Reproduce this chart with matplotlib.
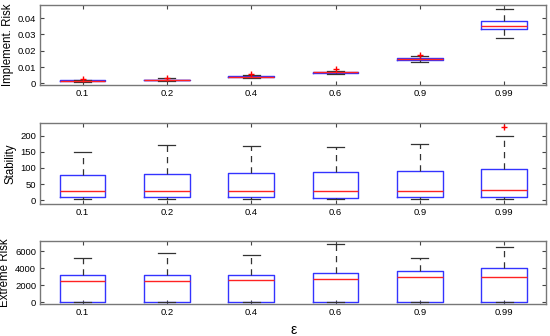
import matplotlib
matplotlib.use("Agg")
import matplotlib.pyplot as plt

plt.rcParams["font.family"] = ["Liberation Sans", "DejaVu Sans"]

EPS_LABELS = ["0.1", "0.2", "0.4", "0.6", "0.9", "0.99"]

# Implement. Risk
IMPL_MED = [0.0015, 0.0020, 0.0042, 0.0068, 0.0150, 0.0352]
IMPL_Q1 = [0.0012, 0.0018, 0.0038, 0.0064, 0.0145, 0.0333]
IMPL_Q3 = [0.0018, 0.0023, 0.0045, 0.0072, 0.0155, 0.0382]
IMPL_LO = [0.0010, 0.0015, 0.0033, 0.0058, 0.0130, 0.0275]
IMPL_HI = [0.0022, 0.0030, 0.0052, 0.0078, 0.0170, 0.0456]
IMPL_FLIERS = [[0.0028], [0.0035], [0.0058], [0.0088], [0.0176], []]

# Stability
STAB_MED = [27, 28, 28, 29, 29, 32]
STAB_Q1 = [10, 10, 10, 8, 10, 10]
STAB_Q3 = [79, 80, 83, 88, 91, 97]
STAB_LO = [2, 2, 2, 2, 2, 2]
STAB_HI = [150, 170, 168, 164, 175, 201]
STAB_FLIERS = [[], [], [], [], [], [229]]

# Extreme Risk
EXT_MED = [2440, 2440, 2600, 2720, 2960, 3030]
EXT_Q1 = [0, 0, 0, 0, 0, 0]
EXT_Q3 = [3150, 3150, 3200, 3430, 3740, 4020]
EXT_LO = [0, 0, 0, 0, 0, 0]
EXT_HI = [5280, 5800, 5560, 6930, 5200, 6540]
EXT_FLIERS = [[], [], [], [], [], []]


def make_stats(med, q1, q3, lo, hi, fliers):
    stats = []
    for i in range(len(med)):
        stats.append(
            {
                "med": med[i],
                "q1": q1[i],
                "q3": q3[i],
                "whislo": lo[i],
                "whishi": hi[i],
                "fliers": fliers[i],
                "label": EPS_LABELS[i],
            }
        )
    return stats


def draw_panel(ax, stats, ylabel, ylim, yticks):
    ax.bxp(
        stats,
        widths=0.54,
        showfliers=True,
        boxprops={"color": "#3333ff", "linewidth": 1.0},
        medianprops={"color": "#ff2222", "linewidth": 1.0},
        whiskerprops={"color": "#333333", "linestyle": (0, (5, 4)), "linewidth": 0.9},
        capprops={"color": "#333333", "linewidth": 0.9},
        flierprops={"marker": "+", "markeredgecolor": "red", "markersize": 5},
        capwidths=0.2,
    )
    ax.set_xlim(0.5, 6.5)
    ax.set_ylim(*ylim)
    ax.set_yticks(yticks)
    ax.set_xticks(range(1, 7))
    ax.set_xticklabels(EPS_LABELS)
    ax.set_ylabel(ylabel, fontsize=8.3, labelpad=3)
    ax.tick_params(direction="in", top=True, right=True, labelsize=6.8,
                   length=3, width=0.8, color="#444444", pad=3)
    for spine in ax.spines.values():
        spine.set_color("#777777")
        spine.set_linewidth(1.0)


fig = plt.figure(figsize=(5.5, 3.36), dpi=100)
ax1 = fig.add_axes([0.0735, 0.747, 0.920, 0.238])
ax2 = fig.add_axes([0.0735, 0.393, 0.920, 0.241])
ax3 = fig.add_axes([0.0735, 0.095, 0.920, 0.188])

draw_panel(ax1, make_stats(IMPL_MED, IMPL_Q1, IMPL_Q3, IMPL_LO, IMPL_HI, IMPL_FLIERS),
           "Implement. Risk", (-0.001, 0.048), [0, 0.01, 0.02, 0.03, 0.04])
ax1.set_yticklabels(["0", "0.01", "0.02", "0.03", "0.04"])
draw_panel(ax2, make_stats(STAB_MED, STAB_Q1, STAB_Q3, STAB_LO, STAB_HI, STAB_FLIERS),
           "Stability", (-12, 240), [0, 50, 100, 150, 200])
draw_panel(ax3, make_stats(EXT_MED, EXT_Q1, EXT_Q3, EXT_LO, EXT_HI, EXT_FLIERS),
           "Extreme Risk", (-240, 7250), [0, 2000, 4000, 6000])
ax3.set_xlabel("ε", fontsize=10, labelpad=4)

fig.savefig("out.png", dpi=100)
